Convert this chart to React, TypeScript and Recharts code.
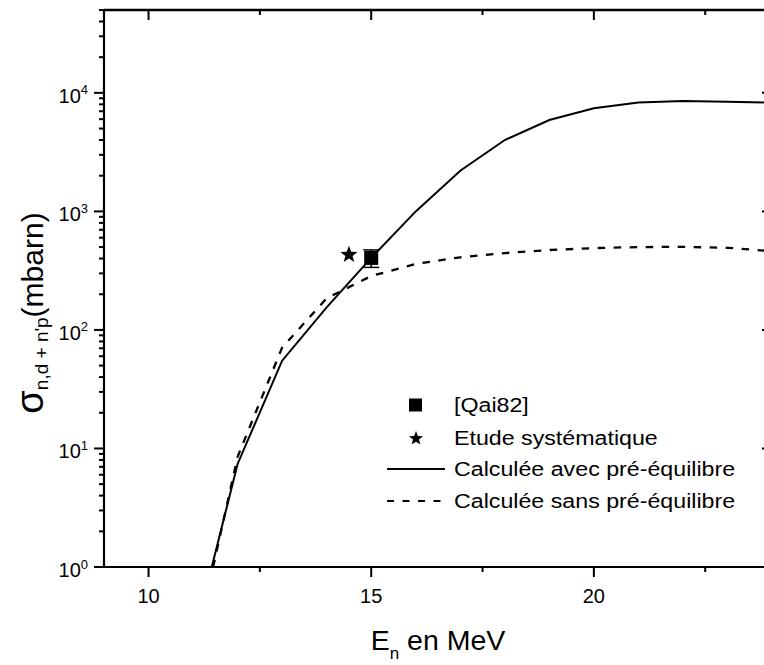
import React from 'react';
import { ComposedChart, Line, Scatter, XAxis, YAxis, ErrorBar, ReferenceLine } from 'recharts';

// ---- data ----
const energyAvec = [11.42, 12, 13, 14, 15, 16, 17, 18, 19, 20, 21, 22, 23, 24];
const sigmaAvec = [1, 7.4, 55, 155, 405, 1000, 2200, 4000, 5900, 7400, 8300, 8550, 8400, 8250];
const energySans = [11.45, 12, 13, 14, 15, 16, 17, 18, 19, 20, 21, 22, 23, 24];
const sigmaSans = [1, 8.5, 71, 185, 285, 360, 410, 445, 472, 490, 500, 502, 493, 462];
const qaiEnergy = [15];
const qaiSigma = [405];
const qaiError = [68];
const etudeEnergy = [14.5];
const etudeSigma = [430];

const xDomain = [9, 24];
const xTicks = [10, 12.5, 15, 17.5, 20, 22.5];
const xMajorTicks = [10, 15, 20];
const yDomain = [1, 50000];
const yTicks = [
  1, 2, 3, 4, 5, 6, 7, 8, 9,
  10, 20, 30, 40, 50, 60, 70, 80, 90,
  100, 200, 300, 400, 500, 600, 700, 800, 900,
  1000, 2000, 3000, 4000, 5000, 6000, 7000, 8000, 9000,
  10000, 20000, 30000, 40000, 50000,
];
const legendLabels = [
  '[Qai82]',
  'Etude systématique',
  'Calculée avec pré-équilibre',
  'Calculée sans pré-équilibre',
];
const xTitle = ['E', 'n', ' en MeV'];
const yTitle = ['σ', "n,d + n'p", '(mbarn)'];

const avecData = energyAvec.map((x, i) => ({ x, y: sigmaAvec[i] }));
const sansData = energySans.map((x, i) => ({ x, y: sigmaSans[i] }));
const qaiData = qaiEnergy.map((x, i) => ({ x, y: qaiSigma[i], err: [qaiError[i], qaiError[i]] }));
const etudeData = etudeEnergy.map((x, i) => ({ x, y: etudeSigma[i] }));

const FONT = '"Liberation Sans", Arial, Helvetica, sans-serif';

const isMajorY = (v: number) => {
  const l = Math.log10(v);
  return Math.abs(l - Math.round(l)) < 1e-9;
};
const isMajorX = (v: number) => xMajorTicks.includes(v);

const starPath = (cx: number, cy: number, R: number) => {
  const r = R * 0.42;
  let d = '';
  for (let i = 0; i < 10; i++) {
    const rad = i % 2 === 0 ? R : r;
    const a = -Math.PI / 2 + (i * Math.PI) / 5;
    d += (i === 0 ? 'M' : 'L') + (cx + rad * Math.cos(a)).toFixed(2) + ',' + (cy + rad * Math.sin(a)).toFixed(2);
  }
  return d + 'Z';
};

const LeftTick = (p: any) => {
  const { x, y, payload } = p;
  const v = payload.value;
  const major = isMajorY(v);
  const exp = Math.round(Math.log10(v));
  return (
    <g>
      <line x1={x} x2={x - (major ? 10 : 5)} y1={y} y2={y} stroke="#000" strokeWidth={2} />
      {major && (
        <text x={x - 16} y={y + 10} textAnchor="end" fontSize={20} fontFamily={FONT} fill="#000">
          <tspan>10</tspan>
          <tspan dy={-8.5} fontSize={13}>{exp}</tspan>
        </text>
      )}
    </g>
  );
};

const RightTick = (p: any) => {
  const { x, y, payload } = p;
  const major = isMajorY(payload.value);
  return <line x1={x} x2={x - (major ? 10 : 5)} y1={y} y2={y} stroke="#000" strokeWidth={2} />;
};

const BottomTick = (p: any) => {
  const { x, y, payload } = p;
  const v = payload.value;
  const major = isMajorX(v);
  return (
    <g>
      <line x1={x} x2={x} y1={y} y2={y + (major ? 10 : 5)} stroke="#000" strokeWidth={2} />
      {major && (
        <text x={x} y={y + 36} textAnchor="middle" fontSize={20} fontFamily={FONT} fill="#000">
          {v}
        </text>
      )}
    </g>
  );
};

const TopTick = (p: any) => {
  const { x, y, payload } = p;
  const major = isMajorX(payload.value);
  return <line x1={x} x2={x} y1={y} y2={y + (major ? 10 : 5)} stroke="#000" strokeWidth={2} />;
};

const XTitle = () => (
  <text x={438} y={650} textAnchor="middle" fontSize={28.5} fontFamily={FONT} fill="#000">
    <tspan>{xTitle[0]}</tspan>
    <tspan fontSize={17} dy={9}>{xTitle[1]}</tspan>
    <tspan dy={-9}>{xTitle[2]}</tspan>
  </text>
);

const YTitle = () => (
  <text
    x={43}
    y={313}
    transform="rotate(-90, 43, 313)"
    textAnchor="middle"
    fontSize={30}
    fontFamily={FONT}
    fill="#000"
  >
    <tspan fontSize={38}>{yTitle[0]}</tspan>
    <tspan fontSize={19} dy={5}>{yTitle[1]}</tspan>
    <tspan dy={-5}>{yTitle[2]}</tspan>
  </text>
);

const SquareShape = (p: any) => (
  <rect x={p.cx - 7} y={p.cy - 7} width={14} height={14} fill="#000" />
);
const StarShape = (p: any) => <path d={starPath(p.cx, p.cy, 9)} fill="#000" />;

const legendRowCenters = [405, 438, 469, 501];

const LegendIcon = ({ i }: { i: number }) => {
  if (i === 0) return <rect x={23} y={7.5} width={13} height={13} fill="#000" />;
  if (i === 1) return <path d={starPath(30, 14.5, 7.5)} fill="#000" />;
  if (i === 2) return <line x1={1} x2={59} y1={14} y2={14} stroke="#000" strokeWidth={2} />;
  return <line x1={1} x2={59} y1={14} y2={14} stroke="#000" strokeWidth={2} strokeDasharray="7 8.5" />;
};

const axisLineStyle = { stroke: '#000', strokeWidth: 2 };

export default function App() {
  return (
    <div
      style={{
        position: 'absolute',
        left: 0,
        top: 0,
        width: 764,
        height: 665,
        overflow: 'hidden',
        background: '#fff',
      }}
    >
      <ComposedChart width={800} height={665} margin={{ top: 0, right: 0, bottom: 0, left: 0 }}>
        <XAxis
          xAxisId={0}
          dataKey="x"
          type="number"
          domain={xDomain}
          ticks={xTicks}
          interval={0}
          allowDataOverflow
          height={98}
          tickSize={0}
          tickMargin={0}
          tickLine={false}
          stroke="#000"
          strokeWidth={2}
          axisLine={axisLineStyle}
          tick={(p: any) => <BottomTick {...p} />}
          label={<XTitle />}
        />
        <XAxis
          xAxisId="top"
          orientation="top"
          dataKey="x"
          type="number"
          domain={xDomain}
          ticks={xTicks}
          interval={0}
          allowDataOverflow
          height={10}
          tickSize={0}
          tickMargin={0}
          tickLine={false}
          stroke="#000"
          strokeWidth={2}
          axisLine={axisLineStyle}
          tick={(p: any) => <TopTick {...p} />}
        />
        <YAxis
          yAxisId={0}
          dataKey="y"
          type="number"
          scale="log"
          domain={yDomain}
          ticks={yTicks}
          interval={0}
          allowDataOverflow
          width={104}
          tickSize={0}
          tickMargin={0}
          tickLine={false}
          stroke="#000"
          strokeWidth={2}
          axisLine={axisLineStyle}
          tick={(p: any) => <LeftTick {...p} />}
          label={<YTitle />}
        />
        <YAxis
          yAxisId="right"
          orientation="right"
          dataKey="y"
          type="number"
          scale="log"
          domain={yDomain}
          ticks={yTicks}
          interval={0}
          allowDataOverflow
          width={28}
          tickSize={0}
          tickMargin={0}
          tickLine={false}
          stroke="#000"
          strokeWidth={2}
          axisLine={axisLineStyle}
          tick={(p: any) => <RightTick {...p} />}
        />
        <ReferenceLine y={yDomain[1]} stroke="#000" strokeWidth={2.6} ifOverflow="visible" />
        <ReferenceLine y={yDomain[0]} stroke="#000" strokeWidth={2.2} ifOverflow="visible" />
        <ReferenceLine x={xDomain[0]} stroke="#000" strokeWidth={2.2} ifOverflow="visible" />
        <ReferenceLine x={xDomain[1]} stroke="#000" strokeWidth={2.2} ifOverflow="visible" />
        <Line
          data={avecData}
          dataKey="y"
          type="linear"
          stroke="#000"
          strokeWidth={2}
          dot={false}
          activeDot={false}
          isAnimationActive={false}
        />
        <Line
          data={sansData}
          dataKey="y"
          type="linear"
          stroke="#000"
          strokeWidth={2.3}
          strokeDasharray="7.5 8.5"
          dot={false}
          activeDot={false}
          isAnimationActive={false}
        />
        <Scatter data={qaiData} dataKey="y" shape={(p: any) => <SquareShape {...p} />} isAnimationActive={false}>
          <ErrorBar dataKey="err" direction="y" width={8} stroke="#000" strokeWidth={1.5} isAnimationActive={false} />
        </Scatter>
        <Scatter data={etudeData} dataKey="y" shape={(p: any) => <StarShape {...p} />} isAnimationActive={false} />
      </ComposedChart>
      {legendLabels.map((label, i) => (
        <div
          key={label}
          style={{
            position: 'absolute',
            left: 386,
            top: legendRowCenters[i] - 14,
            height: 28,
            display: 'flex',
            alignItems: 'center',
            whiteSpace: 'nowrap',
          }}
        >
          <svg width={60} height={28} style={{ display: 'block' }}>
            <LegendIcon i={i} />
          </svg>
          <span
            style={{
              marginLeft: 8,
              fontFamily: FONT,
              fontSize: 20,
              lineHeight: '28px',
              display: 'inline-block',
              transform: 'scaleX(1.16)',
              transformOrigin: 'left center',
              color: '#000',
            }}
          >
            {label}
          </span>
        </div>
      ))}
    </div>
  );
}
